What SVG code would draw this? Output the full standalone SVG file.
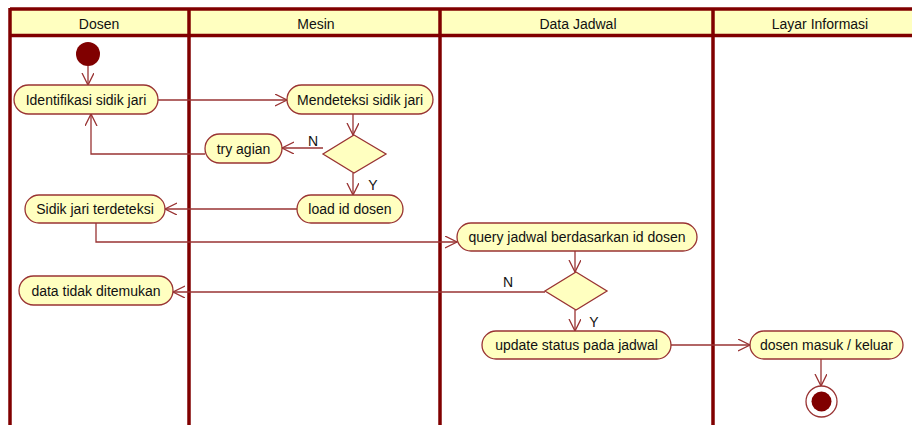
<svg xmlns="http://www.w3.org/2000/svg" width="912" height="425" viewBox="0 0 912 425">
<style>
.lane{stroke:#800000;stroke-width:3.5;fill:none}
.hdr{fill:#FFFFC0}
.t{font-family:"Liberation Sans",Arial,sans-serif;font-size:14px;fill:#111;text-anchor:middle}
.act{fill:#FFFFC0;stroke:#993333;stroke-width:1.3}
.c{stroke:#993333;stroke-width:1.3;fill:none;marker-end:url(#arr)}
</style>
<defs>
<marker id="arr" markerWidth="14" markerHeight="14" refX="12" refY="6" orient="auto" markerUnits="userSpaceOnUse">
<path d="M0,0 L12,6 L0,12" fill="none" stroke="#993333" stroke-width="1.3"/>
</marker>
</defs>
<rect width="912" height="425" fill="#fff"/>
<g id="lanes">
<rect class="hdr" x="10" y="9" width="902" height="26"/>
<line class="lane" x1="10" y1="9" x2="912" y2="9" stroke-width="3"/>
<line class="lane" x1="10" y1="35.5" x2="912" y2="35.5" stroke-width="2.5"/>
<line class="lane" x1="10" y1="8" x2="10" y2="425" stroke-width="3"/>
<line class="lane" x1="189" y1="8" x2="189" y2="425"/>
<line class="lane" x1="440" y1="8" x2="440" y2="425"/>
<line class="lane" x1="713" y1="8" x2="713" y2="425"/>
<text class="t" x="99" y="29">Dosen</text>
<text class="t" x="316" y="29">Mesin</text>
<text class="t" x="578" y="29">Data Jadwal</text>
<text class="t" x="820" y="29">Layar Informasi</text>
</g>
<g id="connectors">
<line class="c" x1="88" y1="66" x2="88" y2="85"/>
<line class="c" x1="158" y1="100" x2="287" y2="100"/>
<line class="c" x1="353" y1="114" x2="353" y2="135"/>
<line class="c" x1="323" y1="148" x2="282" y2="148"/>
<text class="t" x="313" y="146">N</text>
<polyline class="c" points="205,154 91,154 91,114"/>
<line class="c" x1="353" y1="173" x2="353" y2="195"/>
<text class="t" x="373" y="190">Y</text>
<line class="c" x1="297" y1="209" x2="165" y2="209"/>
<polyline class="c" points="96,223 96,242 457,242"/>
<line class="c" x1="575" y1="251" x2="575" y2="272"/>
<line class="c" x1="545" y1="292" x2="173" y2="292"/>
<text class="t" x="508" y="287">N</text>
<line class="c" x1="575" y1="310" x2="575" y2="331"/>
<text class="t" x="594" y="327">Y</text>
<line class="c" x1="671" y1="345" x2="750" y2="345"/>
<line class="c" x1="821" y1="359" x2="821" y2="386"/>
</g>
<g id="start"><circle cx="88" cy="54" r="12" fill="#800000"/></g>
<g id="identifikasi"><rect class="act" x="14" y="85" width="144" height="29" rx="14.5"/><text class="t" x="86" y="105">Identifikasi sidik jari</text></g>
<g id="mendeteksi"><rect class="act" x="287" y="85" width="146" height="29" rx="14.5"/><text class="t" x="360" y="105">Mendeteksi sidik jari</text></g>
<g id="decision1"><polygon class="act" points="354,135 386,154 354,173 323,154"/></g>
<g id="tryagian"><rect class="act" x="205" y="134" width="77" height="29" rx="14.5"/><text class="t" x="243.5" y="154">try agian</text></g>
<g id="loadid"><rect class="act" x="297" y="195" width="106" height="28" rx="14"/><text class="t" x="350" y="214">load id dosen</text></g>
<g id="sidikterdeteksi"><rect class="act" x="25" y="195" width="140" height="28" rx="14"/><text class="t" x="95" y="214">Sidik jari terdeteksi</text></g>
<g id="query"><rect class="act" x="457" y="223" width="240" height="28" rx="14"/><text class="t" x="577" y="242">query jadwal berdasarkan id dosen</text></g>
<g id="decision2"><polygon class="act" points="576,272 607,291 576,310 545,291"/></g>
<g id="tidakditemukan"><rect class="act" x="19" y="276" width="154" height="29" rx="14.5"/><text class="t" x="96" y="296">data tidak ditemukan</text></g>
<g id="update"><rect class="act" x="482" y="331" width="189" height="28" rx="14"/><text class="t" x="576.5" y="350">update status pada jadwal</text></g>
<g id="masuk"><rect class="act" x="750" y="331" width="153" height="28" rx="14"/><text class="t" x="826.5" y="350">dosen masuk / keluar</text></g>
<g id="end"><circle cx="821.5" cy="401.5" r="15.5" fill="#fff" stroke="#993333" stroke-width="1.3"/><circle cx="821.5" cy="401.5" r="10" fill="#800000"/></g>
</svg>
